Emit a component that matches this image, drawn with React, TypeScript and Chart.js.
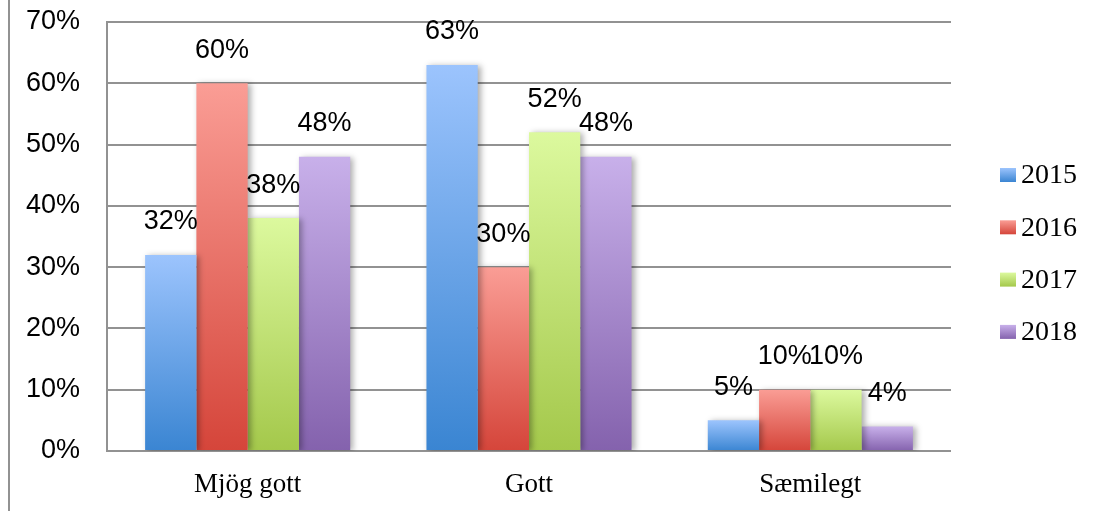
import React, { useEffect, useRef } from "react";
import { Chart, registerables } from "chart.js";

Chart.register(...registerables);

const categories = ["Mjög gott", "Gott", "Sæmilegt"];
const seriesNames = ["2015", "2016", "2017", "2018"];
const values2015 = [32, 63, 5];
const values2016 = [60, 30, 10];
const values2017 = [38, 52, 10];
const values2018 = [48, 48, 4];
const yTicks = [0, 10, 20, 30, 40, 50, 60, 70];

const seriesValues = [values2015, values2016, values2017, values2018];
const gradTop = ["#9cc4fd", "#fa9d95", "#dcf99e", "#c8b0ea"];
const gradBottom = ["#3a85d2", "#d5453a", "#a4c84b", "#8462ad"];

const SANS = "'Liberation Sans', Arial, sans-serif";
const SERIF = "'Liberation Serif', 'Times New Roman', serif";
const GRID = "#929292";

export default function App() {
  const ref = useRef<HTMLCanvasElement | null>(null);

  useEffect(() => {
    const canvas = ref.current;
    if (!canvas) return;

    const barShadow = {
      id: "barShadow",
      beforeDatasetDraw(chart: any) {
        const ctx = chart.ctx;
        ctx.save();
        ctx.shadowColor = "rgba(0,0,0,0.32)";
        ctx.shadowBlur = 6;
        ctx.shadowOffsetX = 3;
        ctx.shadowOffsetY = 1;
      },
      afterDatasetDraw(chart: any) {
        chart.ctx.restore();
      },
    };

    const dataLabels = {
      id: "dataLabels",
      afterDatasetsDraw(chart: any) {
        const ctx = chart.ctx;
        ctx.save();
        ctx.font = `27px ${SANS}`;
        ctx.fillStyle = "#000";
        ctx.textAlign = "center";
        ctx.textBaseline = "middle";
        chart.data.datasets.forEach((ds: any, di: number) => {
          const meta = chart.getDatasetMeta(di);
          meta.data.forEach((el: any, i: number) => {
            ctx.fillText(`${ds.data[i]}%`, el.x, el.y - 33);
          });
        });
        ctx.restore();
      },
    };

    const customLegend = {
      id: "customLegend",
      afterDraw(chart: any) {
        const ctx = chart.ctx;
        ctx.save();
        const boxX = 1000;
        const startY = 175;
        const step = 52.3;
        ctx.font = `28px ${SERIF}`;
        ctx.textAlign = "left";
        ctx.textBaseline = "middle";
        chart.data.datasets.forEach((ds: any, i: number) => {
          const cy = startY + i * step;
          const g = ctx.createLinearGradient(0, cy - 7, 0, cy + 7);
          g.addColorStop(0, gradTop[i]);
          g.addColorStop(1, gradBottom[i]);
          ctx.fillStyle = g;
          ctx.fillRect(boxX, cy - 7, 16, 14);
          ctx.fillStyle = "#000";
          ctx.fillText(ds.label, boxX + 21, cy + 1);
        });
        ctx.restore();
      },
    };

    const chart = new Chart(canvas, {
      type: "bar",
      data: {
        labels: categories,
        datasets: seriesNames.map((name, i) => ({
          label: name,
          data: seriesValues[i],
          borderWidth: 0,
          categoryPercentage: 0.729,
          barPercentage: 1.0,
          backgroundColor: (c: any) => {
            const ch = c.chart;
            if (c.type !== "data" || !ch.chartArea || !ch.scales?.y) return gradBottom[i];
            const ys = ch.scales.y;
            const top = ys.getPixelForValue(c.parsed ? c.parsed.y : c.raw);
            const base = ys.getPixelForValue(0);
            if (!isFinite(top) || !isFinite(base) || top === base) return gradBottom[i];
            const g = ch.ctx.createLinearGradient(0, top, 0, base);
            g.addColorStop(0, gradTop[i]);
            g.addColorStop(1, gradBottom[i]);
            return g;
          },
        })),
      },
      options: {
        responsive: false,
        animation: false,
        events: [],
        layout: { padding: { top: 22, right: 153, bottom: 0, left: 0 } },
        plugins: {
          legend: { display: false },
          tooltip: { enabled: false },
          title: { display: false },
        },
        scales: {
          x: {
            grid: { display: false, drawTicks: false },
            border: { display: false },
            ticks: {
              color: "#000",
              font: { family: SERIF, size: 27 },
              padding: 18,
              maxRotation: 0,
            },
            afterFit(scale: any) {
              scale.height = 60;
            },
          },
          y: {
            min: 0,
            max: 70,
            grid: { color: GRID, lineWidth: 2, drawTicks: false },
            border: { display: true, color: GRID, width: 2 },
            afterBuildTicks(scale: any) {
              scale.ticks = yTicks.map((v) => ({ value: v }));
            },
            ticks: {
              color: "#000",
              font: { family: SANS, size: 27 },
              padding: 27,
              callback: (v: any) => `${v}%`,
            },
            afterFit(scale: any) {
              scale.width = 107;
              scale.paddingTop = 0;
              scale.paddingBottom = 0;
            },
          },
        },
      },
      plugins: [barShadow, dataLabels, customLegend],
    } as any);

    return () => chart.destroy();
  }, []);

  return (
    <div
      style={{
        position: "absolute",
        left: 0,
        top: 0,
        width: 1104,
        height: 511,
        background: "#fff",
        overflow: "hidden",
      }}
    >
      <canvas
        ref={ref}
        width={1104}
        height={511}
        style={{ position: "absolute", left: 0, top: 0, width: 1104, height: 511 }}
      />
      <div
        style={{
          position: "absolute",
          left: 8,
          top: 0,
          width: 2,
          height: 511,
          background: GRID,
        }}
      />
    </div>
  );
}
